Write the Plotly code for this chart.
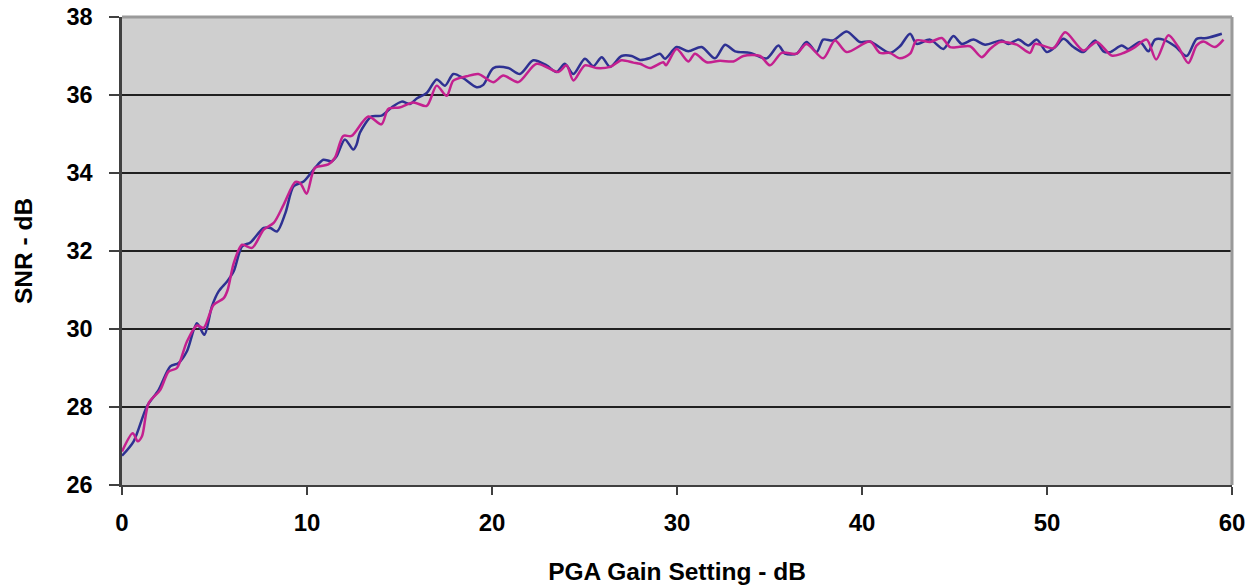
import plotly.graph_objects as go

# PGA gain setting (dB) and SNR (dB)
blue_x = [0, 0.63, 1.35, 1.98, 2.61, 3.06, 3.51, 4.05, 4.45, 4.86, 5.23, 5.68, 6.04, 6.49, 6.94,
          7.66, 8.02, 8.38, 8.83, 9.28, 9.82, 10.43, 10.88, 11.33, 11.6, 12.05, 12.5, 12.68, 12.86,
          13.49, 14.03, 14.57, 15.12, 15.57, 15.93, 16.47, 17.01, 17.46, 17.91, 18.45, 19.17, 19.53,
          20.07, 20.88, 21.51, 22.23, 22.95, 23.49, 23.94, 24.4, 25.02, 25.48, 25.93, 26.38, 27.0,
          27.55, 28.0, 28.54, 29.08, 29.35, 29.98, 30.61, 31.33, 32.05, 32.6, 33.14, 33.95, 34.85,
          35.48, 35.84, 36.47, 37.0, 37.55, 37.9, 38.45, 39.17, 39.89, 40.43, 41.51, 42.05, 42.6,
          42.95, 43.68, 44.4, 44.94, 45.39, 46.02, 46.65, 47.55, 47.91, 48.45, 48.99, 49.45, 49.99,
          50.44, 50.89, 51.43, 51.97, 52.6, 53.05, 53.41, 54.04, 54.4, 55.03, 55.48, 55.84, 56.29,
          56.92, 57.55, 58.09, 58.63, 59.45]
blue_y = [26.75, 27.12, 28.02, 28.44, 29.04, 29.13, 29.43, 30.15, 29.85, 30.58, 30.97, 31.22, 31.48,
          32.12, 32.22, 32.59, 32.59, 32.5, 32.97, 33.66, 33.78, 34.13, 34.34, 34.3, 34.43, 34.86,
          34.6, 34.73, 35.03, 35.45, 35.47, 35.68, 35.83, 35.77, 35.91, 36.05, 36.4, 36.24, 36.54,
          36.43, 36.2, 36.26, 36.69, 36.69, 36.54, 36.89, 36.76, 36.59, 36.8, 36.54, 36.93, 36.74,
          36.97, 36.72, 37.0, 37.0, 36.9, 36.95, 37.06, 36.93, 37.23, 37.12, 37.23, 36.94, 37.29,
          37.12, 37.08, 36.94, 37.27, 37.06, 37.06, 37.36, 37.1, 37.42, 37.4, 37.63, 37.36, 37.37,
          37.08, 37.25, 37.57, 37.31, 37.42, 37.18, 37.51, 37.31, 37.42, 37.29, 37.4, 37.31, 37.42,
          37.27, 37.42, 37.1, 37.23, 37.44, 37.23, 37.1, 37.4, 37.12, 37.1, 37.27, 37.18, 37.36,
          37.12, 37.42, 37.42, 37.25, 37.0, 37.44, 37.46, 37.57]

magenta_x = [0, 0.58, 0.85, 1.08, 1.44, 2.07, 2.52, 2.97, 3.51, 4.05, 4.41, 4.95, 5.5, 5.71, 6.04,
             6.49, 7.03, 7.66, 8.2, 8.74, 9.37, 9.64, 9.98, 10.43, 11.15, 11.51, 11.96, 12.41, 13.31,
             14.03, 14.39, 15.0, 15.75, 16.47, 17.01, 17.55, 17.91, 18.63, 19.26, 20.07, 20.61, 21.42,
             22.41, 23.58, 24.03, 24.4, 25.02, 25.65, 26.38, 27.0, 27.64, 28.0, 28.54, 29.26, 29.4,
             29.98, 30.61, 30.97, 31.6, 32.32, 33.05, 33.59, 34.49, 35.03, 35.66, 36.47, 37.0, 37.9,
             38.54, 39.17, 40.43, 40.97, 41.51, 42.05, 42.6, 42.95, 43.68, 44.31, 44.76, 45.21, 45.84,
             46.47, 46.92, 47.46, 48.36, 49.08, 49.35, 50.35, 50.98, 51.97, 52.69, 53.5, 54.04, 54.67,
             55.39, 55.9, 56.56, 57.1, 57.64, 58.09, 58.45, 59.08, 59.54]
magenta_y = [26.86, 27.33, 27.12, 27.25, 28.1, 28.44, 28.91, 29.0, 29.68, 30.09, 30.03, 30.62, 30.79,
             31.0, 31.69, 32.16, 32.08, 32.55, 32.72, 33.19, 33.77, 33.74, 33.47, 34.13, 34.22, 34.39,
             34.95, 34.95, 35.45, 35.25, 35.64, 35.68, 35.81, 35.72, 36.24, 35.98, 36.37, 36.48, 36.54,
             36.33, 36.5, 36.33, 36.8, 36.59, 36.76, 36.37, 36.76, 36.69, 36.72, 36.89, 36.83, 36.8,
             36.69, 36.84, 36.76, 37.18, 36.86, 37.06, 36.84, 36.88, 36.86, 37.0, 37.0, 36.76, 37.08,
             37.06, 37.31, 36.94, 37.4, 37.1, 37.37, 37.08, 37.08, 36.94, 37.06, 37.4, 37.36, 37.46,
             37.23, 37.23, 37.25, 36.97, 37.18, 37.36, 37.29, 37.08, 37.31, 37.2, 37.61, 37.14, 37.36,
             37.01, 37.06, 37.2, 37.42, 36.91, 37.53, 37.23, 36.82, 37.27, 37.37, 37.23, 37.42]

x_ticks = [0, 10, 20, 30, 40, 50, 60]
y_ticks = [26, 28, 30, 32, 34, 36, 38]

BLUE = "#2E3192"
MAGENTA = "#C4208F"
FONT = "Liberation Sans, Arial, sans-serif"

fig = go.Figure()
fig.add_trace(go.Scatter(x=blue_x, y=blue_y, mode="lines",
                         line=dict(color=BLUE, width=2.5, shape="spline", smoothing=0.8),
                         showlegend=False))
fig.add_trace(go.Scatter(x=magenta_x, y=magenta_y, mode="lines",
                         line=dict(color=MAGENTA, width=2.5, shape="spline", smoothing=0.8),
                         showlegend=False))

fig.update_layout(
    width=1257, height=585,
    margin=dict(l=122, r=25, t=17, b=100),
    paper_bgcolor="white",
    plot_bgcolor="#CFCFCF",
    font=dict(family=FONT, color="black"),
    xaxis=dict(
        range=[0, 60], tickvals=x_ticks, ticks="outside", ticklen=8, tickwidth=1.5,
        tickcolor="#404040", showgrid=False, zeroline=False, automargin=False,
        showline=True, linecolor="#404040", linewidth=2,
        tickfont=dict(size=24, family=FONT, weight="bold"),
        ticklabelstandoff=7, ticklabeloverflow="allow",
        title=dict(text="<b>PGA Gain Setting - dB</b>", font=dict(size=24.5), standoff=33),
    ),
    yaxis=dict(
        range=[26, 38], tickvals=y_ticks, ticks="outside", ticklen=10, tickwidth=1.5,
        tickcolor="#404040", showgrid=True, gridcolor="#202020", gridwidth=1.5,
        zeroline=False, automargin=False, showline=True, linecolor="#404040", linewidth=2.5,
        tickfont=dict(size=23.5, family=FONT, weight="bold"),
        ticklabelstandoff=12, ticklabeloverflow="allow",
        title=dict(text="<b>SNR - dB</b>", font=dict(size=24.5), standoff=27),
    ),
    shapes=[
        dict(type="line", xref="paper", yref="paper", x0=0, x1=1, y0=1, y1=1,
             line=dict(color="#9A9A9A", width=3), layer="above"),
        dict(type="line", xref="paper", yref="paper", x0=1, x1=1, y0=0, y1=1,
             line=dict(color="#9A9A9A", width=3), layer="above"),
    ],
)

# remove the browser's default 8px body margin so the figure sits at the page origin
fig.write_html("out.html", config={"displayModeBar": False},
               post_script="document.body.style.margin='0';")
